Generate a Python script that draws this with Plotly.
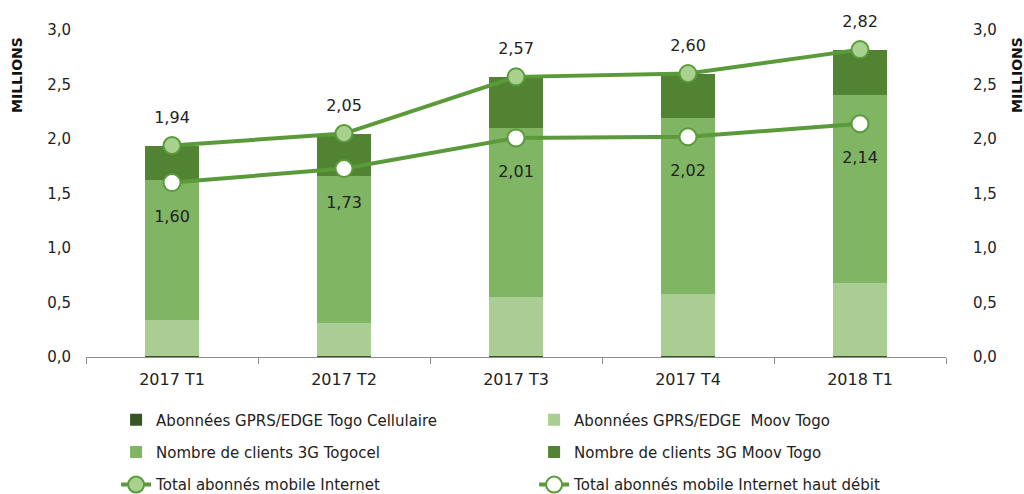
import plotly.graph_objects as go

categories = ["2017 T1", "2017 T2", "2017 T3", "2017 T4", "2018 T1"]
gprs_togo_cellulaire = [0.01, 0.01, 0.01, 0.01, 0.01]
gprs_moov_togo = [0.33, 0.30, 0.54, 0.57, 0.67]
clients_3g_togocel = [1.28, 1.35, 1.55, 1.61, 1.72]
clients_3g_moov = [0.32, 0.39, 0.47, 0.41, 0.42]
total_internet = [1.94, 2.05, 2.57, 2.60, 2.82]
total_haut_debit = [1.60, 1.73, 2.01, 2.02, 2.14]

FONT = "DejaVu Sans"
LINE_GREEN = "#5a9a3a"

fig = go.Figure()
fig.add_trace(go.Bar(x=categories, y=gprs_togo_cellulaire, name="Abonnées GPRS/EDGE Togo Cellulaire",
                     marker=dict(color="#375623", line=dict(width=0)), legend="legend"))
fig.add_trace(go.Bar(x=categories, y=gprs_moov_togo, name="Abonnées GPRS/EDGE  Moov Togo",
                     marker=dict(color="#a9cd92", line=dict(width=0)), legend="legend"))
fig.add_trace(go.Bar(x=categories, y=clients_3g_togocel, name="Nombre de clients 3G Togocel",
                     marker=dict(color="#80b564", line=dict(width=0)), legend="legend2"))
fig.add_trace(go.Bar(x=categories, y=clients_3g_moov, name="Nombre de clients 3G Moov Togo",
                     marker=dict(color="#528332", line=dict(width=0)), legend="legend2"))
fig.add_trace(go.Scatter(x=categories, y=total_internet, name="Total abonnés mobile Internet",
                         mode="lines+markers", yaxis="y2", cliponaxis=False,
                         line=dict(color=LINE_GREEN, width=4),
                         marker=dict(size=17, color="#a9d18e", line=dict(color=LINE_GREEN, width=2)),
                         legend="legend3"))
fig.add_trace(go.Scatter(x=categories, y=total_haut_debit, name="Total abonnés mobile Internet haut débit",
                         mode="lines+markers", yaxis="y2", cliponaxis=False,
                         line=dict(color=LINE_GREEN, width=4),
                         marker=dict(size=17, color="#ffffff", line=dict(color=LINE_GREEN, width=2)),
                         legend="legend3"))
# value labels (invisible spacer markers set the label offset)
fig.add_trace(go.Scatter(x=categories, y=total_internet, mode="markers+text", yaxis="y2",
                         cliponaxis=False, showlegend=False, hoverinfo="skip",
                         marker=dict(size=28, opacity=0),
                         texttemplate="%{y:.2f}", textposition="top center",
                         textfont=dict(family=FONT, size=16, color="#222222")))
fig.add_trace(go.Scatter(x=categories, y=total_haut_debit, mode="markers+text", yaxis="y2",
                         cliponaxis=False, showlegend=False, hoverinfo="skip",
                         marker=dict(size=42, opacity=0),
                         texttemplate="%{y:.2f}", textposition="bottom center",
                         textfont=dict(family=FONT, size=16, color="#222222")))

legend_common = dict(orientation="h", x=0.035, xanchor="left", yanchor="middle",
                     font=dict(family=FONT, size=15, color="#222222"),
                     entrywidth=373, bgcolor="rgba(0,0,0,0)", traceorder="normal")

title_font = dict(family=FONT, size=14, color="#111111")

fig.update_layout(
    width=1024, height=494,
    margin=dict(l=86, r=78, t=30, b=137, autoexpand=False),
    paper_bgcolor="white", plot_bgcolor="white",
    separators=", ",
    barmode="stack", bargap=0.686,
    font=dict(family=FONT, size=15, color="#222222"),
    xaxis=dict(type="category", showline=True, linecolor="#8c8c8c", linewidth=1, automargin=False,
               ticks="outside", tickson="boundaries", ticklen=6, tickcolor="#8c8c8c",
               ticklabelstandoff=8,
               showgrid=False, tickfont=dict(family=FONT, size=16, color="#222222")),
    yaxis=dict(range=[0, 3.0], dtick=0.5, tickformat=".1f", showgrid=False, zeroline=False,
               showline=False, ticklabelstandoff=14, automargin=False,
               tickfont=dict(family=FONT, size=15, color="#222222")),
    yaxis2=dict(range=[0, 3.0], dtick=0.5, tickformat=".1f", overlaying="y", side="right",
                showgrid=False, zeroline=False, showline=False, ticklabelstandoff=26, automargin=False,
                tickfont=dict(family=FONT, size=15, color="#222222")),
    legend=dict(y=-0.193, **legend_common),
    legend2=dict(y=-0.291, **legend_common),
    legend3=dict(y=-0.391, **legend_common),
    showlegend=True,
    annotations=[
        dict(text="<b>MILLIONS</b>", textangle=-90, xref="paper", yref="paper",
             x=-69 / 860, y=1 - 45 / 327, xanchor="center", yanchor="middle",
             showarrow=False, font=title_font),
        dict(text="<b>MILLIONS</b>", textangle=-90, xref="paper", yref="paper",
             x=1 + 71 / 860, y=1 - 45 / 327, xanchor="center", yanchor="middle",
             showarrow=False, font=title_font),
    ],
)

fig.write_html("out.html", config={"displayModeBar": False},
               post_script="document.body.style.margin='0';document.body.style.overflow='hidden';")
